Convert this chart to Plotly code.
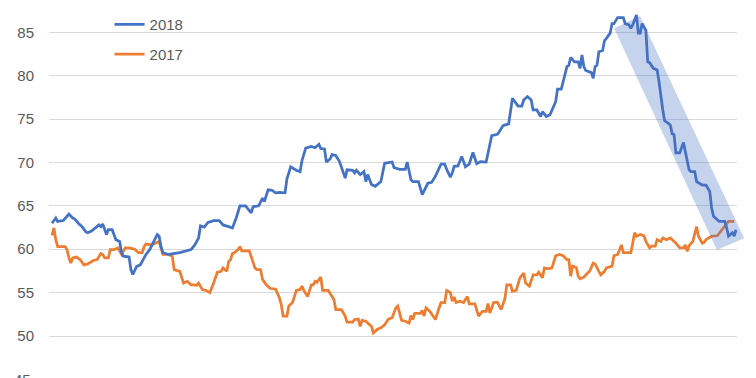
import plotly.graph_objects as go

# ---- data (day index within year, value) ----
day_2018 = [0,2,3,6,8,9,11,12,14,16,18,19,21,24,25,26,27,29,30,32,33,34,36,37,38,41,42,43,45,47,49,50,52,54,56,57,58,59,62,68,72,74,76,78,79,81,83,86,89,91,94,96,98,100,103,106,107,110,112,113,115,117,119,121,124,125,127,128,130,132,133,135,138,140,142,143,145,146,148,149,151,153,155,156,157,160,161,162,164,166,167,168,170,172,175,177,181,182,185,188,189,191,192,195,197,200,202,204,207,209,210,212,213,214,216,218,220,222,224,226,228,231,234,237,238,240,243,245,248,250,251,253,255,256,258,260,261,263,265,268,269,271,274,275,276,278,280,281,282,283,284,287,288,289,290,291,293,294,295,297,298,299,301,304,305,307,308,309,311,312,313,314,316,317,318,320,322,323,325,326,328,329,330,331,332,334,336,337,339,340,342,343,346,348,350,351,352,355,358,359,360,362,363,364]
val_2018 = [63.0,63.6,63.2,63.3,63.8,64.05,63.6,63.5,63.0,62.6,62.0,61.9,62.1,62.6,62.8,62.6,62.9,61.7,62.25,62.25,61.7,61.1,60.9,59.6,59.2,59.1,57.65,57.1,58.0,58.2,59.0,59.4,59.95,60.9,61.7,61.5,60.3,59.6,59.4,59.6,59.8,59.95,60.5,61.3,62.7,62.55,63.1,63.3,63.3,62.8,62.6,62.45,63.6,65.0,65.0,64.2,64.9,65.0,65.9,65.5,66.85,66.8,66.5,66.55,66.5,68.1,69.5,69.35,69.1,68.95,70.2,71.65,71.85,71.7,72.1,71.6,71.55,70.05,70.4,70.9,70.8,70.1,68.95,68.2,69.15,69.1,68.8,69.1,68.6,68.95,67.8,68.6,67.45,67.25,67.8,69.9,70.05,69.4,69.2,69.2,70.05,68.0,67.8,67.8,66.3,67.6,67.7,68.4,69.8,69.8,69.2,68.3,68.8,69.55,69.6,70.7,69.5,69.8,71.15,69.85,70.1,70.05,73.1,73.25,73.55,74.25,74.45,77.4,76.5,76.5,77.2,77.6,77.2,76.05,76.05,75.3,75.85,75.3,75.5,77.0,78.45,78.45,81.05,81.2,82.1,81.6,81.6,80.85,82.4,81.05,80.6,80.35,79.7,81.05,81.2,82.75,82.9,84.05,84.3,84.9,86.0,86.0,86.7,86.7,86.0,85.85,85.45,85.85,87.0,84.9,84.9,86.0,85.25,81.6,81.5,80.85,80.65,79.3,76.05,74.8,74.5,74.3,73.3,73.2,71.1,71.1,72.3,71.3,69.15,68.95,68.95,67.8,67.4,67.4,66.65,64.75,63.8,63.2,63.2,62.45,61.5,61.9,61.5,62.25]

day_2017 = [0,1,2,3,7,8,9,10,11,13,15,17,19,22,24,26,27,28,30,31,33,35,37,39,41,44,46,48,49,50,53,55,57,59,62,64,65,68,70,72,74,75,77,78,80,82,84,86,88,90,91,93,94,95,96,97,99,100,101,105,108,109,111,112,114,116,119,121,122,123,125,126,128,130,132,133,134,136,138,139,140,141,143,144,147,150,151,154,156,157,160,161,163,164,165,167,170,171,173,175,177,179,181,183,184,186,188,190,191,192,193,196,197,198,199,201,204,206,207,209,210,212,213,214,215,217,219,221,222,225,226,227,229,231,232,233,235,237,239,241,242,244,245,247,249,251,252,254,256,258,259,261,262,264,266,268,270,272,274,275,276,277,279,280,281,283,285,286,288,289,291,292,294,295,298,299,301,302,303,304,308,309,310,311,313,315,316,318,319,321,322,324,325,327,329,331,332,334,336,337,338,339,340,341,343,344,346,347,348,351,354,358,359,360,363,364]
val_2017 = [61.6,62.45,61.1,60.3,60.3,59.95,59.0,58.4,59.0,59.1,58.8,58.2,58.3,58.7,58.8,59.5,59.4,59.0,59.0,59.95,59.95,60.15,59.4,60.15,60.15,60.0,59.6,59.6,60.3,60.6,60.5,60.7,60.9,59.4,59.4,59.2,57.65,57.45,56.1,56.3,55.9,55.9,55.85,56.1,55.35,55.25,55.0,56.1,57.35,57.45,57.85,57.45,58.6,58.8,59.5,59.6,59.95,60.3,59.8,59.8,57.85,57.65,57.65,56.55,55.9,55.5,55.4,54.4,53.6,52.3,52.3,53.45,53.85,55.25,55.35,55.75,55.25,54.55,55.9,55.9,56.3,56.2,56.8,55.25,55.25,54.2,53.05,53.05,52.3,51.6,51.6,51.9,51.95,51.1,51.8,51.7,51.1,50.35,50.75,50.95,51.3,51.95,52.1,53.25,53.45,51.8,51.7,51.5,52.35,51.9,52.6,52.6,52.95,52.3,53.25,52.85,51.9,53.25,53.85,53.85,55.25,55.0,54.0,54.5,53.85,54.0,53.85,54.55,53.7,53.7,53.05,52.3,52.85,52.85,53.75,52.65,53.85,53.9,53.05,54.3,55.9,55.9,55.15,55.25,56.7,57.25,56.1,55.75,57.05,57.05,57.35,56.7,57.85,57.75,57.85,59.25,59.4,59.25,58.8,58.8,56.9,58.05,57.9,56.9,56.6,56.8,57.25,57.45,58.4,58.3,57.45,57.05,57.45,57.85,58.05,59.25,59.4,59.95,60.5,59.6,59.6,60.7,61.9,61.5,61.7,61.55,60.9,60.15,60.35,60.35,61.1,60.9,61.3,61.1,61.3,60.9,60.7,60.15,60.15,60.5,59.75,60.4,60.7,60.9,62.6,61.5,60.7,60.8,61.1,61.5,61.55,62.6,62.9,63.2,63.2]

# highlight band corners (day, value)
band_days = [299.1, 312.9, 368.3, 353.8]
band_vals = [85.46, 86.88, 61.26, 59.91]

y_ticks = [50, 55, 60, 65, 70, 75, 80, 85]
cut_tick = 45  # partly visible tick label at the bottom edge

X_RANGE = [-1.6, 364.5]
Y_RANGE = [45.16, 87.80]

BLUE = "#4472C4"
ORANGE = "#ED7D31"
FONT = "Liberation Sans"


def to_paper(v, rng):
    return (v - rng[0]) / (rng[1] - rng[0])


fig = go.Figure()
fig.add_trace(go.Scatter(x=day_2017, y=val_2017, mode="lines", name="2017",
                         line=dict(color=ORANGE, width=2.75), legend="legend2"))
fig.add_trace(go.Scatter(x=day_2018, y=val_2018, mode="lines", name="2018",
                         line=dict(color=BLUE, width=2.75), legend="legend"))

pts = [(to_paper(d, X_RANGE), to_paper(v, Y_RANGE)) for d, v in zip(band_days, band_vals)]
path = "M " + " L ".join(f"{x:.4f},{y:.4f}" for x, y in pts) + " Z"
fig.add_shape(type="path", path=path, xref="paper", yref="paper",
              fillcolor="rgba(68,114,196,0.31)", line=dict(width=0), layer="above")

fig.add_annotation(text=str(cut_tick), x=0, xref="paper", y=to_paper(cut_tick, Y_RANGE),
                   yref="paper", xanchor="right", yanchor="middle", xshift=-16,
                   showarrow=False, font=dict(family=FONT, size=15, color="#595959"))

legend_font = dict(family=FONT, size=15, color="#595959")
fig.update_layout(
    width=748, height=370,
    margin=dict(l=41, r=19, t=0, b=0),
    paper_bgcolor="white", plot_bgcolor="white",
    showlegend=True,
    legend=dict(x=0.088, y=1.0, xanchor="left", yanchor="top", font=legend_font,
                bgcolor="rgba(0,0,0,0)", borderwidth=0),
    legend2=dict(x=0.088, y=0.919, xanchor="left", yanchor="top", font=legend_font,
                 bgcolor="rgba(0,0,0,0)", borderwidth=0),
    xaxis=dict(range=X_RANGE, visible=False, showgrid=False, zeroline=False),
    yaxis=dict(range=Y_RANGE, tickvals=y_ticks, ticktext=[str(t) for t in y_ticks],
               showgrid=True, gridcolor="#D9D9D9", gridwidth=1, zeroline=False,
               showline=False, ticks="", ticklabelstandoff=14,
               tickfont=dict(family=FONT, size=15, color="#595959")),
)

fig.write_html("out.html")
